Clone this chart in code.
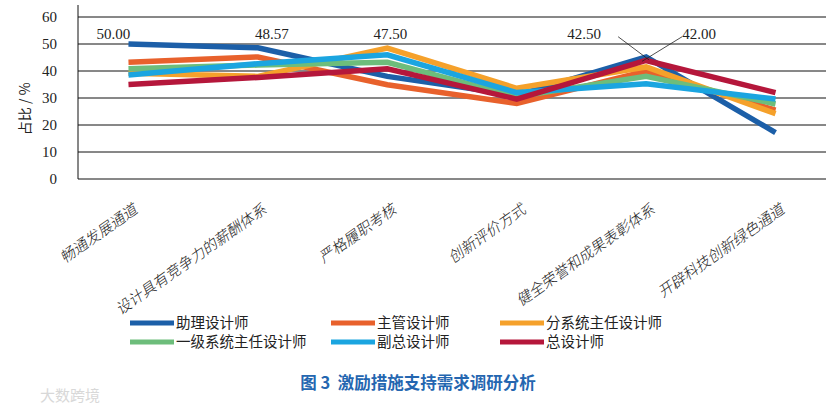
<!DOCTYPE html>
<html>
<head>
<meta charset="utf-8">
<script src="https://cdn.jsdelivr.net/npm/d3@7"></script>
<style>
  body { margin: 0; background: #fff; }
  svg { display: block; }
</style>
</head>
<body>
<div id="chart"></div>
<script>
// categories (x axis)
const categories = ["畅通发展通道", "设计具有竞争力的薪酬体系", "严格履职考核", "创新评价方式", "健全荣誉和成果表彰体系", "开辟科技创新绿色通道"];
const seriesNames = ["助理设计师", "主管设计师", "分系统主任设计师", "一级系统主任设计师", "副总设计师", "总设计师"];
const seriesColors = ["#1c5fa8", "#e8612c", "#f5a12b", "#6dbd7b", "#1ba5e0", "#b5173b"];

// values (%)
const assistant = [50.0, 48.57, 38.0, 31.0, 45.2, 17.2];
const supervisor = [43.2, 45.2, 34.9, 28.0, 40.0, 25.5];
const subsystemChief = [39.2, 38.0, 48.5, 33.6, 41.5, 24.2];
const firstLevelChief = [40.8, 42.2, 43.2, 30.5, 38.0, 27.8];
const deputyChief = [38.5, 42.7, 46.0, 32.0, 35.3, 29.6];
const chief = [35.0, 37.6, 40.8, 29.6, 43.9, 32.0];
const seriesValues = [assistant, supervisor, subsystemChief, firstLevelChief, deputyChief, chief];

const yTicks = [0, 10, 20, 30, 40, 50, 60];

// data labels: category each label belongs to, and its text
const labelCats = [0, 1, 2, 4, 4];
const labelTexts = ["50.00", "48.57", "47.50", "42.50", "42.00"];
const labelShift = [-15, 14, 3, -62, 53]; // horizontal nudge from the category

const width = 838;
const height = 410;
const margin = { top: 17, right: 12, bottom: 231, left: 78 };

const svg = d3
  .select("#chart")
  .append("svg")
  .attr("width", width)
  .attr("height", height);

const x = d3
  .scalePoint()
  .domain(categories)
  .range([margin.left, width - margin.right])
  .padding(0.39);

const y = d3
  .scaleLinear()
  .domain([0, 60])
  .range([height - margin.bottom, margin.top]);

// gridlines
svg
  .append("g")
  .selectAll("line")
  .data(yTicks)
  .enter()
  .append("line")
  .attr("x1", margin.left)
  .attr("x2", width - margin.right)
  .attr("y1", (d) => y(d))
  .attr("y2", (d) => y(d))
  .attr("stroke", "#111")
  .attr("stroke-width", 1);

// left axis line
svg
  .append("line")
  .attr("x1", margin.left)
  .attr("x2", margin.left)
  .attr("y1", 5)
  .attr("y2", y(0))
  .attr("stroke", "#111")
  .attr("stroke-width", 1);

// y tick labels
svg
  .append("g")
  .selectAll("text")
  .data(yTicks)
  .enter()
  .append("text")
  .attr("x", 57)
  .attr("y", (d) => y(d))
  .attr("dy", "0.35em")
  .attr("text-anchor", "end")
  .style("font-family", "'Liberation Serif', serif")
  .style("font-size", "15px")
  .attr("fill", "#222")
  .text((d) => d);

// y axis title
svg
  .append("text")
  .attr("transform", `translate(25, ${y(26)}) rotate(-90)`)
  .attr("text-anchor", "middle")
  .attr("dy", "0.35em")
  .style("font-family", "'Noto Sans CJK SC', sans-serif")
  .style("font-size", "14px")
  .attr("fill", "#222")
  .text("占比 / %");

// x category labels, rotated
svg
  .append("g")
  .selectAll("text")
  .data(categories)
  .enter()
  .append("text")
  .attr("transform", (d) => `translate(${x(d) + 10}, 212) rotate(-35) skewX(-12)`)
  .attr("text-anchor", "end")
  .style("font-family", "'Noto Sans CJK SC', sans-serif")
  .style("font-size", "15px")
  .style("font-weight", 300)
  .attr("fill", "#222")
  .text((d) => d);

// lines
const line = d3
  .line()
  .x((d, i) => x(categories[i]))
  .y((d) => y(d));

svg
  .append("g")
  .selectAll("path")
  .data(seriesValues)
  .enter()
  .append("path")
  .attr("d", (d) => line(d))
  .attr("fill", "none")
  .attr("stroke", (d, i) => seriesColors[i])
  .attr("stroke-width", 5.5)
  .attr("stroke-linejoin", "miter");

// data labels
svg
  .append("g")
  .selectAll("text")
  .data(labelTexts)
  .enter()
  .append("text")
  .attr("x", (d, i) => x(categories[labelCats[i]]) + labelShift[i])
  .attr("y", y(53.7))
  .attr("dy", "0.35em")
  .attr("text-anchor", "middle")
  .style("font-family", "'Liberation Serif', serif")
  .style("font-size", "15px")
  .attr("fill", "#222")
  .text((d) => d);

// leader lines for the two labels over the fifth category
const px = x(categories[4]);
svg
  .append("line")
  .attr("x1", px - 28)
  .attr("y1", y(52.7))
  .attr("x2", px + 3)
  .attr("y2", y(44.1))
  .attr("stroke", "#222")
  .attr("stroke-width", 0.8);
svg
  .append("line")
  .attr("x1", px + 36)
  .attr("y1", y(52.7))
  .attr("x2", px - 4)
  .attr("y2", y(43.6))
  .attr("stroke", "#222")
  .attr("stroke-width", 0.8);

// legend
const legendX = [130, 331, 500];
const legendY = [323, 342];
const legend = svg
  .append("g")
  .selectAll("g")
  .data(seriesNames)
  .enter()
  .append("g")
  .attr("transform", (d, i) => `translate(${legendX[i % 3]}, ${legendY[Math.floor(i / 3)]})`);

legend
  .append("line")
  .attr("x1", 0)
  .attr("x2", 44)
  .attr("stroke", (d, i) => seriesColors[i])
  .attr("stroke-width", 5);

legend
  .append("text")
  .attr("x", 46)
  .attr("dy", "0.35em")
  .style("font-family", "'Noto Sans CJK SC', sans-serif")
  .style("font-size", "14.5px")
  .attr("fill", "#222")
  .text((d) => d);

// figure caption
svg
  .append("text")
  .attr("x", 418)
  .attr("y", 383)
  .attr("dy", "0.35em")
  .attr("text-anchor", "middle")
  .style("font-family", "'Noto Sans CJK SC', sans-serif")
  .style("font-size", "16.5px")
  .style("font-weight", 700)
  .attr("fill", "#2466b0")
  .attr("xml:space", "preserve")
  .text("图 3  激励措施支持需求调研分析");

// watermark
svg
  .append("text")
  .attr("x", 40)
  .attr("y", 396)
  .attr("dy", "0.35em")
  .style("font-family", "'Noto Sans CJK SC', sans-serif")
  .style("font-size", "15px")
  .attr("fill", "#d8d8d8")
  .text("大数跨境");
</script>
</body>
</html>
